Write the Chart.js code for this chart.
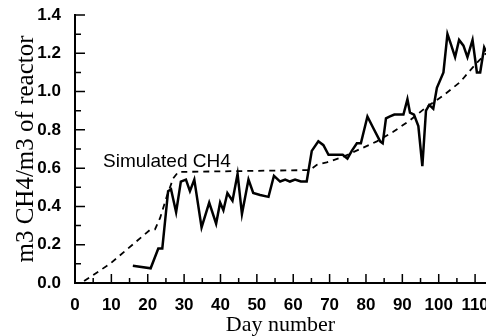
<!DOCTYPE html>
<html>
<head>
<meta charset="UTF-8">
<title>CH4 per reactor volume</title>
<script src="https://cdn.jsdelivr.net/npm/chart.js"></script>
<style type="text/css">
	body { margin: 0; background: #fff; }
	#chartArea { width: 486px; height: 336px; }
</style>
</head>
<body>
<div id="chartArea">
	<canvas id="myChart"></canvas>
</div>
<script>
// measured gas production (solid line)
var measuredDays = [15.9, 20.8, 22.9, 24.0, 25.6, 26.4, 27.8, 29.1, 30.5, 31.6, 32.8, 34.8, 36.9, 38.8, 39.9, 40.8, 41.9, 43.3, 44.7, 45.9,
	47.7, 49.0, 50.9, 53.2, 54.7, 56.4, 57.8, 59.1, 60.5, 62.1, 63.7, 65.1, 66.9, 68.3, 69.7, 71.0, 72.4, 73.6, 74.9, 76.1,
	77.5, 78.6, 80.4, 82.0, 83.9, 84.6, 85.5, 86.6, 87.8, 89.2, 90.3, 91.4, 92.1, 93.2, 94.4, 95.5, 96.5, 97.4, 98.5, 99.5,
	101.3, 102.4, 103.3, 104.5, 105.6, 106.8, 107.9, 109.3, 110.5, 111.4, 112.5, 113];
var measuredCH4 = [0.09, 0.077, 0.18, 0.18, 0.48, 0.49, 0.37, 0.53, 0.54, 0.48, 0.54, 0.29, 0.42, 0.31, 0.42, 0.38, 0.47, 0.43, 0.57, 0.36,
	0.54, 0.47, 0.46, 0.45, 0.56, 0.53, 0.54, 0.53, 0.54, 0.53, 0.53, 0.69, 0.74, 0.72, 0.67, 0.67, 0.67, 0.67, 0.65, 0.69,
	0.73, 0.73, 0.87, 0.81, 0.74, 0.73, 0.86, 0.87, 0.88, 0.88, 0.88, 0.96, 0.89, 0.88, 0.82, 0.61, 0.90, 0.93, 0.91, 1.02,
	1.10, 1.30, 1.25, 1.18, 1.27, 1.24, 1.18, 1.27, 1.10, 1.10, 1.23, 1.21];

// simulated (dashed line)
var simDays = [2.5, 9.6, 20.6, 22.0, 23.4, 25.2, 27.0, 28.4, 64.6, 66.5, 69.2, 73.8, 78.4, 83.0, 87.5, 92.1, 96.7, 101.3, 105.9, 110.0, 113];
var simCH4 = [0.01, 0.10, 0.277, 0.28, 0.34, 0.45, 0.547, 0.58, 0.59, 0.617, 0.63, 0.66, 0.70, 0.74, 0.79, 0.85, 0.92, 0.98, 1.05, 1.14, 1.20];

var xTicks = [0, 10, 20, 30, 40, 50, 60, 70, 80, 90, 100, 110];
var yTicks = [0, 0.2, 0.4, 0.6, 0.8, 1.0, 1.2, 1.4];
var simLabel = 'Simulated CH4';
var simLabelAt = [7.7, 0.606]; // day, value

function toPoints(xs, ys) {
	return xs.map(function(v, i) { return {x: v, y: ys[i]}; });
}

// tick marks pointing into the plot + the curve label
var innerTicks = {
	id: 'innerTicks',
	afterDraw: function(chart) {
		var ctx = chart.ctx, sx = chart.scales.x, sy = chart.scales.y, area = chart.chartArea;
		ctx.save();
		ctx.strokeStyle = '#000';
		ctx.lineWidth = 1.5;
		ctx.beginPath();
		xTicks.forEach(function(v) {
			var px = sx.getPixelForValue(v);
			ctx.moveTo(px, area.bottom); ctx.lineTo(px, area.bottom - 9);
			var pm = sx.getPixelForValue(v + 5);
			if (pm < area.right) { ctx.moveTo(pm, area.bottom); ctx.lineTo(pm, area.bottom - 5); }
		});
		yTicks.forEach(function(v, i) {
			var py = sy.getPixelForValue(v);
			ctx.moveTo(area.left, py); ctx.lineTo(area.left + 10, py);
			if (i < yTicks.length - 1) {
				var pm = sy.getPixelForValue((v + yTicks[i + 1]) / 2);
				ctx.moveTo(area.left, pm); ctx.lineTo(area.left + 6, pm);
			}
		});
		ctx.stroke();
		ctx.fillStyle = '#000';
		ctx.font = '19px "Liberation Sans", Arial, sans-serif';
		ctx.textBaseline = 'alphabetic';
		ctx.fillText(simLabel, sx.getPixelForValue(simLabelAt[0]), sy.getPixelForValue(simLabelAt[1]));
		ctx.restore();
	}
};

var ctx = document.getElementById('myChart').getContext('2d');
var myChart = new Chart(ctx, {
	type: 'line',
	data: {
		datasets: [{
			label: 'Measured CH4',
			data: toPoints(measuredDays, measuredCH4),
			borderColor: '#000',
			borderWidth: 2.5,
			pointRadius: 0,
			tension: 0
		}, {
			label: simLabel,
			data: toPoints(simDays, simCH4),
			borderColor: '#000',
			borderWidth: 1.8,
			borderDash: [6, 5],
			pointRadius: 0,
			tension: 0
		}]
	},
	options: {
		responsive: true,
		maintainAspectRatio: false,
		animation: false,
		layout: { autoPadding: false, padding: { top: 15, right: 0, left: 0, bottom: 0 } },
		plugins: { legend: { display: false }, tooltip: { enabled: false } },
		scales: {
			x: {
				type: 'linear',
				min: 0,
				max: 113,
				afterBuildTicks: function(scale) { scale.ticks = xTicks.map(function(v) { return {value: v}; }); },
				afterFit: function(scale) {
					scale.height = 53;
					scale.paddingLeft = 0;
					scale.paddingRight = 0;
				},
				grid: { drawOnChartArea: false, drawTicks: false },
				border: { display: true, color: '#000', width: 2 },
				ticks: {
					color: '#000',
					padding: 12,
					maxRotation: 0,
					font: { family: '"Liberation Sans", Arial, sans-serif', size: 17, weight: 'bold' }
				},
				title: {
					display: true,
					text: 'Day number',
					color: '#000',
					padding: { top: 0, bottom: -2 },
					font: { family: '"Liberation Serif", "Times New Roman", serif', size: 22 }
				}
			},
			y: {
				min: 0,
				max: 1.4,
				afterBuildTicks: function(scale) { scale.ticks = yTicks.map(function(v) { return {value: v}; }); },
				afterFit: function(scale) {
					scale.width = 75;
					scale.paddingTop = 0;
					scale.paddingBottom = 0;
				},
				grid: { drawOnChartArea: false, drawTicks: false },
				border: { display: true, color: '#000', width: 2 },
				ticks: {
					color: '#000',
					padding: 14,
					callback: function(v) { return Number(v).toFixed(1); },
					font: { family: '"Liberation Sans", Arial, sans-serif', size: 17, weight: 'bold' }
				},
				title: {
					display: true,
					text: 'm3 CH4/m3 of reactor',
					color: '#000',
					padding: { top: 11, bottom: 0 },
					font: { family: '"Liberation Serif", "Times New Roman", serif', size: 25 }
				}
			}
		}
	},
	plugins: [innerTicks]
});
</script>
</body>
</html>
